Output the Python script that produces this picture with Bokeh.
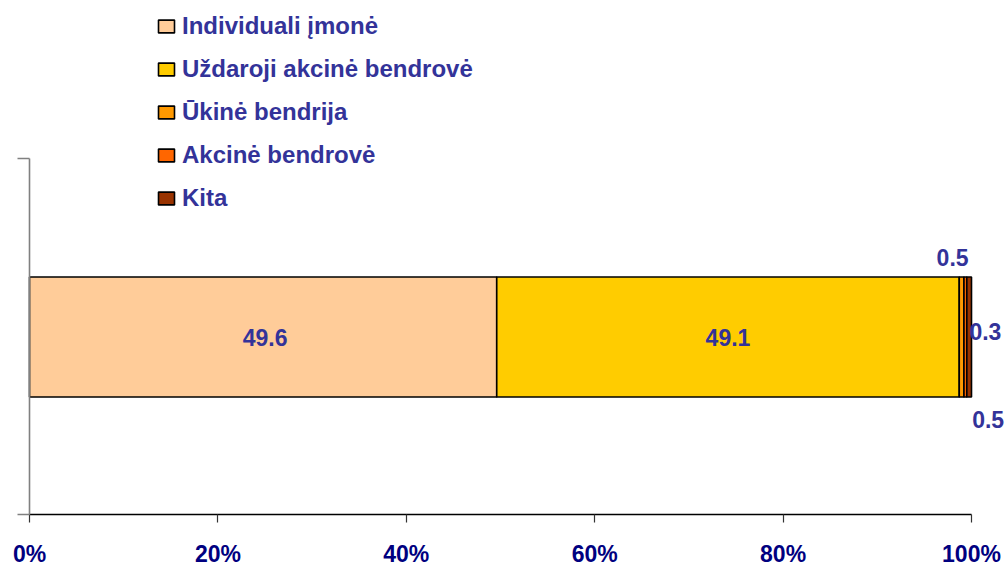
from bokeh.plotting import figure
from bokeh.models import (Range1d, ColumnDataSource, LabelSet, Legend, LegendItem,
                          FixedTicker, PrintfTickFormatter, CustomLabelingPolicy)
from bokeh.embed import file_html
from bokeh.resources import INLINE
from bokeh.core.properties import value

categories = ["Individuali įmonė", "Uždaroji akcinė bendrovė", "Ūkinė bendrija",
              "Akcinė bendrovė", "Kita"]
shares = [49.6, 49.1, 0.5, 0.3, 0.5]
colors = ["#FFCC99", "#FFCC00", "#FF9900", "#FF6600", "#993300"]
tick_values = [0, 20, 40, 60, 80, 100]

FONT = "Liberation Sans"
TXT = "#333399"

W, H = 1007, 567
left_px, right_px = 29, 971           # canvas x of 0% and 100%
scale = (right_px - left_px) / 100.0
axis_px = 514                          # canvas y of the category axis
x_start = -left_px / scale
x_end = 100 + (W - right_px) / scale

p = figure(width=W, height=H, output_backend="svg", toolbar_location=None,
           x_range=Range1d(x_start, x_end), y_range=Range1d(-(H - axis_px), axis_px),
           min_border=0, outline_line_color=None, background_fill_color="white",
           border_fill_color="white")
p.grid.visible = False

bar_y, bar_h = 177.5, 120
lefts, rights = [], []
acc = 0.0
for s in shares:
    lefts.append(acc)
    acc += s
    rights.append(acc)

items = []
for i, cat in enumerate(categories):
    src = ColumnDataSource(dict(y=[bar_y], left=[lefts[i]], right=[rights[i]]))
    r = p.hbar(y="y", left="left", right="right", height=bar_h, source=src,
               fill_color=colors[i], line_color="black", line_width=1.6)
    items.append(LegendItem(label=cat, renderers=[r]))

row_h = 43
legend_top = 4.5
legend = Legend(items=items, location=(156, H - legend_top - 5 * row_h),
                orientation="vertical",
                glyph_width=20, glyph_height=16, label_standoff=6, spacing=0,
                label_height=row_h, padding=0, margin=0,
                background_fill_alpha=0, border_line_color=None,
                label_text_font=FONT, label_text_font_size="24px",
                label_text_font_style="bold", label_text_color=TXT)
p.add_layout(legend, "center")

# data labels
centers = [(l + r) / 2 for l, r in zip(lefts, rights)]
xo = [2, 0, -9, 20, 19]
yo = [0, 0, 79.5, 5.5, -82]
lab_src = ColumnDataSource(dict(x=centers, y=[bar_y] * len(shares),
                                text=[f"{s:.1f}" for s in shares], xo=xo, yo=yo))
labels = LabelSet(x="x", y="y", text="text", source=lab_src, x_offset="xo", y_offset="yo",
                  text_align="center", text_baseline="middle", text_color=TXT,
                  text_font=value(FONT), text_font_size="23px", text_font_style="bold")
p.add_layout(labels)

# axes
xa = p.xaxis[0]
xa.fixed_location = 0
xa.bounds = (0, 100)
xa.ticker = FixedTicker(ticks=tick_values)
xa.formatter = PrintfTickFormatter(format="%d%%")
xa.axis_line_color = "black"
xa.axis_line_width = 1.6
xa.major_tick_line_color = "#333333"
xa.major_tick_line_width = 1.2
xa.major_tick_out = 8
xa.major_tick_in = 0
xa.minor_tick_line_color = None
xa.major_label_standoff = 18
xa.major_label_text_font = FONT
xa.major_label_text_font_size = "23px"
xa.major_label_text_font_style = "bold"
xa.major_label_text_color = "#000080"

ya = p.yaxis[0]
ya.fixed_location = 0
ya.bounds = (0, 356)
ya.ticker = FixedTicker(ticks=[0, 356])
ya.axis_line_color = "#808080"
ya.axis_line_width = 1.6
ya.major_tick_line_color = "#808080"
ya.major_tick_line_width = 1.6
ya.major_tick_out = 12
ya.major_tick_in = 0
ya.minor_tick_line_color = None
ya.major_label_policy = CustomLabelingPolicy(code="return new Set()")

open("out.html", "w").write(file_html(p, INLINE))
